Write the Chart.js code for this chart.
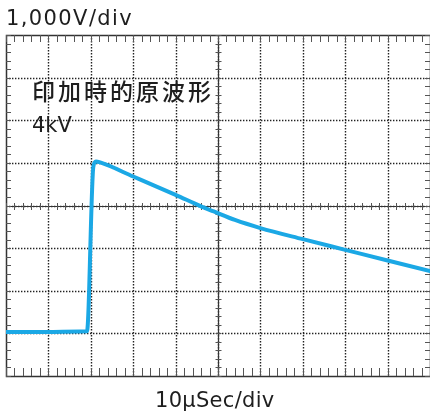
<!DOCTYPE html>
<html>
<head>
<meta charset="utf-8">
<script src="https://cdn.jsdelivr.net/npm/chart.js@4"></script>
<style>
  html, body { margin: 0; padding: 0; background: #fff; }
  #wrap { width: 430px; height: 414px; }
</style>
</head>
<body>
<div id="wrap"><canvas id="chartOnda"></canvas></div>
<script>
// Forma de onda (10us/div, 1000V/div)
const timeUs = [0, 19.1, 20.6, 21.2, 22.2, 30, 40, 46, 49, 54, 60, 70, 80, 90, 100];
const voltage = [-2970, -2950, 910, 1030, 1010, 680, 250, -20, -140, -340, -530, -790, -1040, -1290, -1540];

const voltTitle = "1,000V/div";
const timeTitle = "10\u03bcSec/div";
const noteLines = ["印加時的原波形", "4kV"];

const TIME_DIV = 10;
const VOLT_DIV = 1000;

// Plugin para desenhar a retícula do osciloscópio
const graticule = {
  id: "graticule",
  beforeDatasetsDraw(chart) {
    const { ctx, chartArea: a, scales } = chart;
    const x = scales.x, y = scales.y;
    ctx.save();

    // linhas pontilhadas
    ctx.strokeStyle = "#222";
    ctx.lineWidth = 1.4;
    ctx.setLineDash([1.4, 1.6]);
    for (let t = x.min + TIME_DIV; t < x.max; t += TIME_DIV) {
      const px = Math.round(x.getPixelForValue(t)) + 0.5;
      ctx.beginPath(); ctx.moveTo(px, a.top); ctx.lineTo(px, a.bottom); ctx.stroke();
    }
    for (let v = y.min + VOLT_DIV; v < y.max; v += VOLT_DIV) {
      const py = Math.round(y.getPixelForValue(v)) + 0.5;
      ctx.beginPath(); ctx.moveTo(a.left, py); ctx.lineTo(a.right, py); ctx.stroke();
    }
    ctx.setLineDash([]);

    // borda e eixos centrais
    ctx.strokeStyle = "#333";
    ctx.lineWidth = 1.5;
    ctx.strokeRect(a.left + 0.5, a.top + 0.5, a.right - a.left, a.bottom - a.top);
    const cx = Math.round(x.getPixelForValue((x.min + x.max) / 2)) + 0.5;
    const cy = Math.round(y.getPixelForValue(0)) + 0.5;
    ctx.lineWidth = 1.2;
    ctx.beginPath();
    ctx.moveTo(a.left, cy); ctx.lineTo(a.right, cy);
    ctx.moveTo(cx, a.top); ctx.lineTo(cx, a.bottom);
    ctx.stroke();

    // marcas menores
    ctx.strokeStyle = "#555";
    ctx.lineWidth = 1;
    ctx.beginPath();
    for (let t = x.min; t <= x.max; t += TIME_DIV / 5) {
      const px = Math.round(x.getPixelForValue(t)) + 0.5;
      ctx.moveTo(px, a.top); ctx.lineTo(px, a.top + 7);
      ctx.moveTo(px, a.bottom); ctx.lineTo(px, a.bottom - 8);
      ctx.moveTo(px, cy - 3.5); ctx.lineTo(px, cy + 3.5);
    }
    for (let v = y.min; v <= y.max; v += VOLT_DIV / 5) {
      const py = Math.round(y.getPixelForValue(v)) + 0.5;
      ctx.moveTo(a.left, py); ctx.lineTo(a.left + 5, py);
      ctx.moveTo(a.right, py); ctx.lineTo(a.right - 5, py);
      ctx.moveTo(cx - 3, py); ctx.lineTo(cx + 3, py);
    }
    ctx.stroke();
    ctx.restore();
  },
  afterDraw(chart) {
    const { ctx, chartArea: a } = chart;
    ctx.save();
    ctx.fillStyle = "#1e1e1e";
    ctx.textBaseline = "alphabetic";

    ctx.font = '21px "DejaVu Sans", "Noto Sans CJK JP", sans-serif';
    ctx.letterSpacing = "1.4px";
    ctx.textAlign = "left";
    ctx.fillText(voltTitle, a.left, 25);

    ctx.letterSpacing = "0.3px";
    ctx.fillText(timeTitle, 155, 407);

    ctx.font = '500 23px "Noto Sans CJK JP", sans-serif';
    ctx.letterSpacing = "3px";
    ctx.fillText(noteLines[0], 32, 100);
    ctx.font = '21px "DejaVu Sans", "Noto Sans CJK JP", sans-serif';
    ctx.letterSpacing = "0px";
    ctx.fillText(noteLines[1], 32, 132);
    ctx.restore();
  },
};

const onda = document.getElementById("chartOnda");

new Chart(onda, {
  type: "scatter",
  data: {
    datasets: [
      {
        label: "Tensão (V)",
        data: timeUs.map((t, i) => ({ x: t, y: voltage[i] })),
        showLine: true,
        borderColor: "#1ba8e5",
        borderWidth: 4,
        borderJoinStyle: "round",
        borderCapStyle: "round",
        cubicInterpolationMode: "monotone",
        pointRadius: 0,
      },
    ],
  },
  options: {
    responsive: true,
    maintainAspectRatio: false,
    animation: false,
    layout: { padding: { left: 6, top: 35, right: 0, bottom: 38 } },
    plugins: {
      legend: { display: false },
      tooltip: { enabled: false },
    },
    scales: {
      x: { type: "linear", min: 0, max: 100, display: false },
      y: { type: "linear", min: -4000, max: 4000, display: false },
    },
  },
  plugins: [graticule],
});
</script>
</body>
</html>
